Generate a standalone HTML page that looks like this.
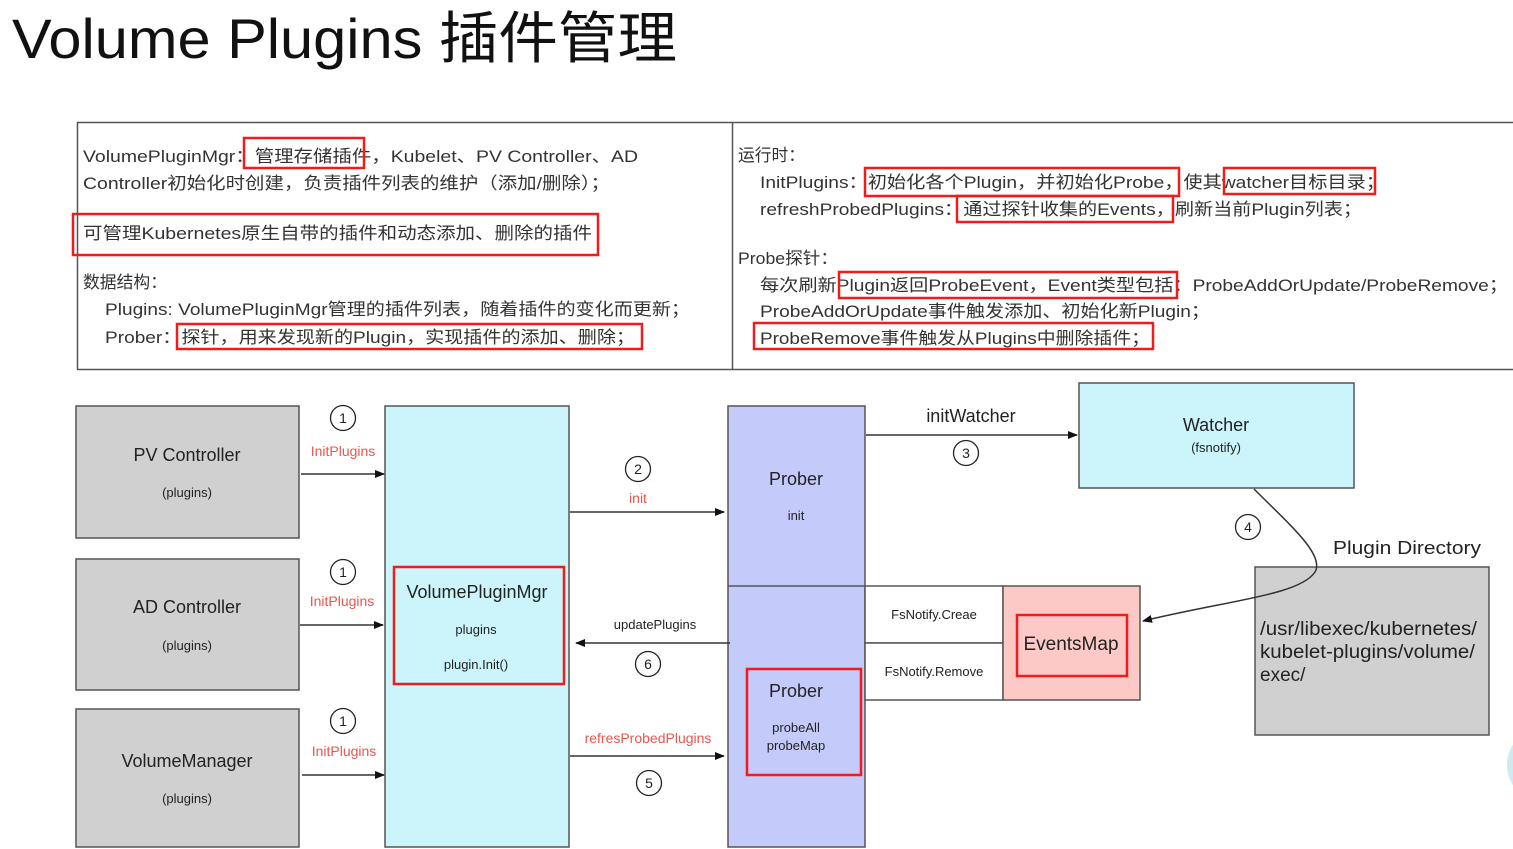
<!DOCTYPE html>
<html><head><meta charset="utf-8"><style>
html,body{margin:0;padding:0;background:#fff;width:1513px;height:849px;overflow:hidden}
svg text{font-family:"Liberation Sans","Noto Sans CJK SC",sans-serif}
</style></head><body>
<svg width="1513" height="849" xmlns="http://www.w3.org/2000/svg">
<defs><marker id="a" markerWidth="10" markerHeight="8" refX="9" refY="4" orient="auto" markerUnits="userSpaceOnUse"><path d="M0,0 L10,4 L0,8 z" fill="#111"/></marker></defs>
<text x="12" y="58" font-size="56" fill="#111" textLength="665" lengthAdjust="spacingAndGlyphs">Volume Plugins 插件管理</text>

<!-- top table -->
<rect x="77.5" y="122.5" width="1445" height="247" fill="#fff" stroke="#555" stroke-width="1.5"/>
<line x1="732.5" y1="122" x2="732.5" y2="370" stroke="#555" stroke-width="1.5"/>
<g font-size="17" fill="#333">
<text x="83" y="162" textLength="555" lengthAdjust="spacingAndGlyphs">VolumePluginMgr：管理存储插件，Kubelet、PV Controller、AD</text>
<text x="83" y="189" textLength="527" lengthAdjust="spacingAndGlyphs">Controller初始化时创建，负责插件列表的维护（添加/删除）；</text>
<text x="83" y="239" textLength="509" lengthAdjust="spacingAndGlyphs">可管理Kubernetes原生自带的插件和动态添加、删除的插件</text>
<text x="83" y="288" textLength="84" lengthAdjust="spacingAndGlyphs">数据结构：</text>
<text x="105" y="315" textLength="585" lengthAdjust="spacingAndGlyphs">Plugins: VolumePluginMgr管理的插件列表，随着插件的变化而更新；</text>
<text x="105" y="343" textLength="530" lengthAdjust="spacingAndGlyphs">Prober：探针，用来发现新的Plugin，实现插件的添加、删除；</text>
<text x="738" y="161" textLength="67" lengthAdjust="spacingAndGlyphs">运行时：</text>
<text x="760" y="188" textLength="625" lengthAdjust="spacingAndGlyphs">InitPlugins：初始化各个Plugin，并初始化Probe，使其watcher目标目录；</text>
<text x="760" y="215" textLength="602" lengthAdjust="spacingAndGlyphs">refreshProbedPlugins：通过探针收集的Events，刷新当前Plugin列表；</text>
<text x="738" y="264" textLength="100" lengthAdjust="spacingAndGlyphs">Probe探针：</text>
<text x="760" y="291" textLength="748" lengthAdjust="spacingAndGlyphs">每次刷新Plugin返回ProbeEvent，Event类型包括：ProbeAddOrUpdate/ProbeRemove；</text>
<text x="760" y="317" textLength="450" lengthAdjust="spacingAndGlyphs">ProbeAddOrUpdate事件触发添加、初始化新Plugin；</text>
<text x="760" y="344" textLength="390" lengthAdjust="spacingAndGlyphs">ProbeRemove事件触发从Plugins中删除插件；</text>
</g>
<g fill="none" stroke="#f01c1c" stroke-width="2.5">
<rect x="244" y="138" width="120" height="30"/>
<rect x="73" y="214" width="525" height="41"/>
<rect x="177" y="324" width="465" height="25"/>
<rect x="865" y="168" width="314" height="28"/>
<rect x="1224" y="168" width="151" height="26"/>
<rect x="957" y="196" width="216" height="26"/>
<rect x="839" y="272" width="338" height="26"/>
<rect x="754" y="323" width="399" height="26"/>
</g>

<!-- diagram boxes -->
<g stroke="#555" stroke-width="1.5">
<rect x="76" y="406" width="223" height="132" fill="#d0d0d0"/>
<rect x="76" y="559" width="223" height="131" fill="#d0d0d0"/>
<rect x="76" y="709" width="223" height="138" fill="#d0d0d0"/>
<rect x="385" y="406" width="184" height="441" fill="#ccf5fb"/>
<rect x="728" y="406" width="137" height="441" fill="#c4cbfa"/>
<rect x="1079" y="383" width="275" height="105" fill="#ccf5fb"/>
<rect x="865" y="586" width="138" height="57" fill="#fff"/>
<rect x="865" y="643" width="138" height="57" fill="#fff"/>
<rect x="1003" y="586" width="137" height="114" fill="#fcc9c6"/>
<rect x="1255" y="567" width="234" height="168" fill="#d0d0d0"/>
</g>
<line x1="728" y1="586" x2="865" y2="586" stroke="#555" stroke-width="1.5"/>
<circle cx="1545" cy="765" r="38" fill="#cfe9f0"/>
<g fill="none" stroke="#f01c1c" stroke-width="2.5">
<rect x="394" y="567" width="170" height="117"/>
<rect x="747" y="669" width="114" height="106"/>
<rect x="1017" y="615" width="110" height="61"/>
</g>

<g fill="#222" text-anchor="middle">
<text x="187" y="461" font-size="18">PV Controller</text>
<text x="187" y="497" font-size="13">(plugins)</text>
<text x="187" y="613" font-size="18">AD Controller</text>
<text x="187" y="650" font-size="13">(plugins)</text>
<text x="187" y="767" font-size="18">VolumeManager</text>
<text x="187" y="803" font-size="13">(plugins)</text>
<text x="477" y="598" font-size="18">VolumePluginMgr</text>
<text x="476" y="634" font-size="13">plugins</text>
<text x="476" y="669" font-size="13">plugin.Init()</text>
<text x="796" y="485" font-size="18">Prober</text>
<text x="796" y="520" font-size="13">init</text>
<text x="796" y="697" font-size="18">Prober</text>
<text x="796" y="732" font-size="13">probeAll</text>
<text x="796" y="750" font-size="13">probeMap</text>
<text x="1216" y="431" font-size="18">Watcher</text>
<text x="1216" y="452" font-size="13">(fsnotify)</text>
<text x="934" y="619" font-size="13">FsNotify.Creae</text>
<text x="934" y="676" font-size="13">FsNotify.Remove</text>
<text x="1071" y="650" font-size="19">EventsMap</text>
<text x="971" y="422" font-size="18">initWatcher</text>
<text x="655" y="629" font-size="13">updatePlugins</text>
</g>
<text x="1333" y="554" font-size="18" fill="#222" textLength="148" lengthAdjust="spacingAndGlyphs">Plugin Directory</text>
<g font-size="19" fill="#222">
<text x="1260" y="635" textLength="217" lengthAdjust="spacingAndGlyphs">/usr/libexec/kubernetes/</text>
<text x="1260" y="658" textLength="215" lengthAdjust="spacingAndGlyphs">kubelet-plugins/volume/</text>
<text x="1260" y="681">exec/</text>
</g>
<g fill="#e8574d" font-size="14" text-anchor="middle">
<text x="343" y="456">InitPlugins</text>
<text x="342" y="606">InitPlugins</text>
<text x="344" y="756">InitPlugins</text>
<text x="638" y="503">init</text>
<text x="648" y="743">refresProbedPlugins</text>
</g>

<!-- arrows -->
<g stroke="#333" stroke-width="1.5" fill="none" marker-end="url(#a)">
<line x1="301" y1="474" x2="384" y2="474"/>
<line x1="300" y1="625" x2="383" y2="625"/>
<line x1="302" y1="775" x2="384" y2="775"/>
<line x1="570" y1="512" x2="724" y2="512"/>
<line x1="730" y1="643" x2="576" y2="643"/>
<line x1="570" y1="756" x2="724" y2="756"/>
<line x1="866" y1="435" x2="1077" y2="435"/>
<path d="M1254,489 C1290,525 1325,555 1315,572 C1300,595 1230,600 1143,621"/>
</g>
<g fill="#fff" stroke="#222" stroke-width="1.3">
<circle cx="343" cy="418" r="12.5"/><circle cx="343" cy="572" r="12.5"/><circle cx="343" cy="721" r="12.5"/>
<circle cx="638" cy="469" r="12.5"/><circle cx="648" cy="664" r="12.5"/><circle cx="649" cy="783" r="12.5"/>
<circle cx="966" cy="453" r="12.5"/><circle cx="1248" cy="527" r="12.5"/>
</g>
<g font-size="14" fill="#222" text-anchor="middle">
<text x="343" y="423">1</text><text x="343" y="577">1</text><text x="343" y="726">1</text>
<text x="638" y="474">2</text><text x="648" y="669">6</text><text x="649" y="788">5</text>
<text x="966" y="458">3</text><text x="1248" y="532">4</text>
</g>
</svg>
</body></html>
